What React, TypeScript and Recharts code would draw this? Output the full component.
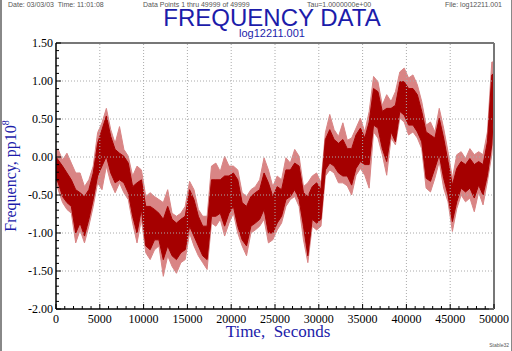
import React from "react";
import {
  ComposedChart,
  Area,
  Line,
  XAxis,
  YAxis,
  ReferenceLine,
} from "recharts";

// time (s): start, middle of each 500 s slice, end
const times = [
  0, 250, 750, 1250, 1750, 2250, 2750, 3250, 3750, 4250, 4750, 5250, 5750,
  6250, 6750, 7250, 7750, 8250, 8750, 9250, 9750, 10250, 10750, 11250, 11750,
  12250, 12750, 13250, 13750, 14250, 14750, 15250, 15750, 16250, 16750, 17250,
  17750, 18250, 18750, 19250, 19750, 20250, 20750, 21250, 21750, 22250, 22750,
  23250, 23750, 24250, 24750, 25250, 25750, 26250, 26750, 27250, 27750, 28250,
  28750, 29250, 29750, 30250, 30750, 31250, 31750, 32250, 32750, 33250, 33750,
  34250, 34750, 35250, 35750, 36250, 36750, 37250, 37750, 38250, 38750, 39250,
  39750, 40250, 40750, 41250, 41750, 42250, 42750, 43250, 43750, 44250, 44750,
  45250, 45750, 46250, 46750, 47250, 47750, 48250, 48750, 49250, 49750, 50000,
];
// outer envelope of the spikes, pp10^8
const spikeHi = [
  0.1, 0.1, -0.04, 0.05, -0.08, -0.21, -0.21, -0.39, -0.3, -0.12, 0.32, 0.45,
  0.64, 0.36, 0.18, 0.4, 0.1, 0.01, -0.25, -0.12, -0.17, -0.52, -0.47, -0.52,
  -0.56, -0.6, -0.43, -0.74, -0.78, -0.74, -0.65, -0.32, -0.43, -0.69, -0.78,
  -0.78, -0.12, -0.08, -0.19, 0.01, -0.12, -0.12, -0.17, -0.47, -0.52, -0.43,
  -0.39, -0.3, -0.01, -0.17, -0.39, -0.25, -0.3, -0.01, -0.08, 0.1, 0.01,
  -0.39, -0.34, -0.25, -0.21, -0.34, 0.32, 0.56, 0.36, 0.27, 0.45, 0.22, 0.25,
  0.38, 0.51, 0.33, 0.6, 1.06, 0.99, 0.68, 0.82, 0.73, 0.86, 1.12, 1.17, 1.04,
  1.08, 0.95, 0.73, 0.42, 0.46, 0.33, 0.64, 0.38, 0.07, -0.28, 0.03, 0.07,
  -0.02, 0.11, 0.03, 0.07, 0.03, 0.33, 1.25, 1.25,
];
const spikeLo = [
  -0.35, -0.43, -0.6, -0.69, -0.74, -1.13, -0.96, -1.13, -0.91, -0.65, -0.34,
  -0.43, -0.12, -0.34, -0.47, -0.34, -0.47, -0.56, -0.87, -1.13, -0.82, -1.26,
  -1.35, -1.22, -1.17, -1.57, -1.3, -1.44, -1.53, -1.39, -1.35, -1.0, -1.17,
  -1.3, -1.39, -1.48, -0.87, -0.91, -0.82, -1.04, -0.87, -0.74, -1.0, -1.17,
  -1.3, -1.0, -0.96, -0.91, -0.82, -1.13, -1.09, -0.96, -0.87, -0.65, -0.56,
  -0.52, -0.65, -1.09, -1.39, -0.91, -0.96, -0.91, -0.25, -0.17, -0.21, -0.34,
  -0.34, -0.38, -0.5, -0.24, -0.15, -0.24, -0.41, 0.33, 0.25, 0.03, -0.24,
  0.25, 0.16, 0.51, 0.46, 0.29, 0.33, 0.25, 0.11, -0.41, -0.46, -0.28, -0.06,
  -0.41, -0.59, -0.98, -0.68, -0.5, -0.59, -0.54, -0.72, -0.46, -0.63, -0.32,
  0.03, 0.55,
];
// dense core of the trace
const coreHi = [
  0.0, -0.04, -0.12, -0.21, -0.3, -0.43, -0.47, -0.52, -0.43, -0.21, 0.18,
  0.36, 0.54, 0.27, 0.1, 0.05, 0.01, -0.08, -0.39, -0.34, -0.3, -0.65, -0.65,
  -0.69, -0.74, -0.82, -0.65, -0.82, -0.87, -0.82, -0.78, -0.43, -0.56, -0.78,
  -0.91, -0.91, -0.3, -0.3, -0.3, -0.25, -0.25, -0.21, -0.3, -0.6, -0.65,
  -0.52, -0.47, -0.43, -0.21, -0.34, -0.52, -0.39, -0.43, -0.17, -0.17, -0.08,
  -0.12, -0.47, -0.52, -0.39, -0.34, -0.43, 0.23, 0.36, 0.23, 0.18, 0.23, 0.11,
  0.11, 0.29, 0.38, 0.25, 0.46, 0.9, 0.86, 0.6, 0.64, 0.64, 0.68, 0.99, 0.99,
  0.9, 0.9, 0.82, 0.6, 0.33, 0.29, 0.25, 0.51, 0.25, -0.06, -0.37, -0.15,
  -0.06, -0.1, -0.02, -0.1, -0.06, -0.1, 0.2, 1.08, 1.1,
];
const coreLo = [
  -0.3, -0.34, -0.52, -0.6, -0.65, -1.0, -0.87, -1.04, -0.82, -0.56, -0.25,
  -0.12, 0.01, -0.21, -0.34, -0.3, -0.34, -0.47, -0.78, -1.0, -0.69, -1.17,
  -1.22, -1.09, -1.09, -1.35, -1.17, -1.3, -1.35, -1.26, -1.22, -0.91, -1.04,
  -1.17, -1.3, -1.35, -0.78, -0.78, -0.74, -0.91, -0.74, -0.65, -0.91, -1.09,
  -1.17, -0.91, -0.87, -0.82, -0.69, -1.0, -1.0, -0.87, -0.78, -0.56, -0.52,
  -0.43, -0.56, -0.91, -1.3, -0.82, -0.87, -0.82, -0.17, -0.08, -0.12, -0.21,
  -0.25, -0.25, -0.37, -0.15, -0.06, -0.1, -0.1, 0.42, 0.38, 0.11, -0.06,
  0.33, 0.2, 0.6, 0.55, 0.42, 0.42, 0.33, 0.2, -0.28, -0.32, -0.15, 0.03,
  -0.28, -0.5, -0.85, -0.59, -0.41, -0.46, -0.41, -0.54, -0.37, -0.5, -0.24,
  0.16, 0.7,
];

const yLabels = [-2, -1.5, -1, -0.5, 0, 0.5, 1, 1.5];
const xLabels = [
  0, 5000, 10000, 15000, 20000, 25000, 30000, 35000, 40000, 45000, 50000,
];

const data = times.map((t, i) => ({
  t,
  spike: [spikeLo[i], spikeHi[i]],
  core: [coreLo[i], coreHi[i]],
}));

// minor ticks every 0.1 on y, every 1000 s on x
const yTicks = Array.from({ length: 36 }, (_, i) => Math.round((-2 + i * 0.1) * 10) / 10);
const xTicks = Array.from({ length: 51 }, (_, i) => i * 1000);

const isMajorY = (v: number) => Math.abs(v * 2 - Math.round(v * 2)) < 1e-6;

const serif: React.CSSProperties = { fontFamily: "'Liberation Serif', serif" };

function LeftTick({ x, y, payload }: any) {
  const major = isMajorY(payload.value);
  return (
    <g>
      <line x1={x} x2={x + (major ? 5 : 3)} y1={y} y2={y} stroke="#000" />
      {major && (
        <text x={x - 3} y={y} dy={4} textAnchor="end" fontSize={12} fill="#000" style={serif}>
          {payload.value.toFixed(2)}
        </text>
      )}
    </g>
  );
}

function RightTick({ x, y, payload }: any) {
  const major = isMajorY(payload.value);
  return <line x1={x} x2={x - (major ? 5 : 3)} y1={y} y2={y} stroke="#666" />;
}

function BottomTick({ x, y, payload }: any) {
  const major = payload.value % 5000 === 0;
  return (
    <g>
      <line x1={x} x2={x} y1={y} y2={y - (major ? 5 : 3)} stroke="#000" />
      {major && (
        <text x={x} y={y} dy={14} textAnchor="middle" fontSize={12} fill="#000" style={serif}>
          {payload.value}
        </text>
      )}
    </g>
  );
}

const small: React.CSSProperties = {
  position: "absolute",
  top: 0,
  fontFamily: "Liberation Sans",
  fontSize: 7,
  lineHeight: "9px",
  color: "#555",
  whiteSpace: "nowrap",
};

export default function App() {
  return (
    <div
      style={{
        position: "fixed",
        left: 0,
        top: 0,
        width: 512,
        height: 351,
        background: "#fff",
        boxSizing: "border-box",
        borderLeft: "2px solid #888",
        borderRight: "1px solid #888",
        overflow: "hidden",
      }}
    >
      <div style={{ ...small, left: 6 }}>Date: 03/03/03&nbsp;&nbsp;Time: 11:01:08</div>
      <div style={{ ...small, left: 141 }}>Data Points 1 thru 49999 of 49999</div>
      <div style={{ ...small, left: 305 }}>Tau=1.0000000e+00</div>
      <div style={{ ...small, right: 9 }}>File: log12211.001</div>
      <div
        style={{
          position: "absolute",
          left: 0,
          width: 540,
          top: 9,
          textAlign: "center",
          fontFamily: "Liberation Sans",
          fontSize: 24,
          lineHeight: "18px",
          color: "#1c1caa",
        }}
      >
        FREQUENCY DATA
      </div>
      <div
        style={{
          position: "absolute",
          left: 0,
          width: 540,
          top: 28,
          textAlign: "center",
          fontFamily: "Liberation Sans",
          fontSize: 11,
          lineHeight: "11px",
          color: "#1c1caa",
        }}
      >
        log12211.001
      </div>

      <div style={{ position: "absolute", left: -2, top: 0 }}>
        <ComposedChart
          width={512}
          height={351}
          data={data}
          margin={{ top: 42, right: 17, bottom: 0, left: 55 }}
        >
          <XAxis
            dataKey="t"
            type="number"
            domain={[0, 50000]}
            ticks={xTicks}
            interval={0}
            tick={<BottomTick />}
            tickSize={0}
            tickMargin={0}
            tickLine={false}
            axisLine={{ stroke: "#000", strokeWidth: 1.5 }}
            height={42}
          />
          <XAxis
            xAxisId="top"
            dataKey="t"
            type="number"
            orientation="top"
            domain={[0, 50000]}
            tick={false}
            tickLine={false}
            axisLine={{ stroke: "#777", strokeWidth: 2 }}
            height={1}
          />
          <YAxis
            type="number"
            domain={[-2, 1.5]}
            ticks={yTicks}
            interval={0}
            tick={<LeftTick />}
            tickSize={0}
            tickMargin={0}
            tickLine={false}
            axisLine={{ stroke: "#000", strokeWidth: 1.5 }}
            width={1}
          />
          <YAxis
            yAxisId="right"
            orientation="right"
            type="number"
            domain={[-2, 1.5]}
            ticks={yTicks}
            interval={0}
            tick={<RightTick />}
            tickSize={0}
            tickMargin={0}
            tickLine={false}
            axisLine={{ stroke: "#777", strokeWidth: 2 }}
            width={1}
          />
          {yLabels.slice(1, -1).map((v) => (
            <ReferenceLine key={"y" + v} y={v} stroke="#aaa" strokeDasharray="1 2" />
          ))}
          {xLabels.slice(1, -1).map((v) => (
            <ReferenceLine key={"x" + v} x={v} stroke="#aaa" strokeDasharray="1 2" />
          ))}
          <Area
            dataKey="spike"
            type="linear"
            fill="#d98585"
            fillOpacity={1}
            stroke="#d98585"
            strokeWidth={1}
            isAnimationActive={false}
          />
          <Area
            dataKey="core"
            type="linear"
            fill="#a50000"
            fillOpacity={1}
            stroke="#a50000"
            strokeWidth={1}
            isAnimationActive={false}
          />
          <Line
            xAxisId="top"
            yAxisId="right"
            dataKey="t"
            stroke="none"
            dot={false}
            isAnimationActive={false}
          />
        </ComposedChart>
      </div>

      <div style={{ position: "absolute", left: -2, top: 176, width: 0, height: 0 }}>
        <div
          style={{
            position: "absolute",
            left: 0,
            top: 0,
            transform: "translate(-50%, -50%) rotate(-90deg) translate(0, 10px)",
            fontFamily: "Liberation Serif",
            fontSize: 16,
            color: "#1c1caa",
            whiteSpace: "nowrap",
          }}
        >
          Frequency, pp10<sup style={{ fontSize: 10 }}>8</sup>
        </div>
      </div>
      <div
        style={{
          position: "absolute",
          left: 176,
          width: 200,
          top: 322,
          textAlign: "center",
          fontFamily: "Liberation Serif",
          fontSize: 17,
          lineHeight: "20px",
          color: "#1c1caa",
          whiteSpace: "pre",
        }}
      >
        Time,  Seconds
      </div>
      <div
        style={{
          position: "absolute",
          right: 2,
          top: 342,
          fontFamily: "Liberation Sans",
          fontSize: 5,
          color: "#555",
        }}
      >
        Stable32
      </div>
    </div>
  );
}
